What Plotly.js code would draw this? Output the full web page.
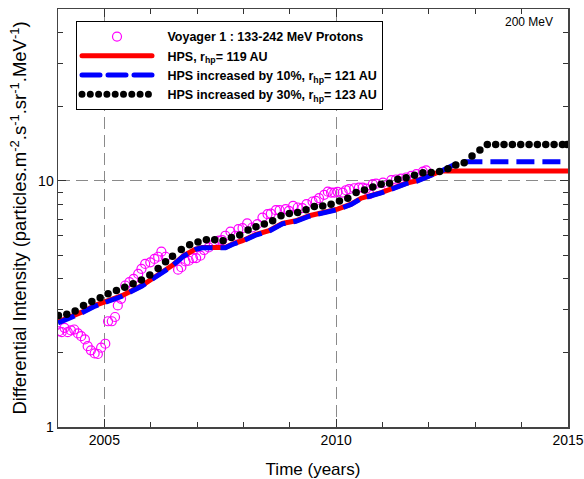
<!DOCTYPE html>
<html>
<head>
<meta charset="utf-8">
<script src="https://cdn.plot.ly/plotly-3.0.1.min.js"></script>
<style>
html,body{margin:0;padding:0;background:#fff;}
.legend path.js-line{stroke-linecap:round !important;}
</style>
</head>
<body>
<div id="chart" style="width:584px;height:479px;"></div>
<script>
// Voyager 1 : 133-242 MeV protons (observations)
const voyYears = [2004.02,2004.08,2004.14,2004.21,2004.28,2004.35,2004.43,2004.50,2004.58,2004.64,2004.71,2004.79,2004.86,2004.93,2005.02,
  2005.08,2005.16,2005.23,2005.29,2005.36,2005.45,2005.54,2005.63,2005.73,2005.80,2005.88,2005.99,2006.08,2006.16,2006.23,2006.32,
  2006.59,2006.66,2006.75,2006.82,2006.91,2006.98,2007.07,2007.15,2007.25,2007.36,2007.47,2007.54,2007.61,2007.72,2007.83,2007.89,2007.98,
  2008.08,2008.19,2008.30,2008.41,2008.52,2008.59,2008.70,2008.78,2008.91,2008.98,2009.07,2009.17,2009.27,2009.36,2009.49,2009.56,2009.63,
  2009.74,2009.82,2009.89,2009.96,2010.03,2010.14,2010.21,2010.28,2010.39,2010.49,2010.57,2010.65,2010.72,2010.79,2010.86,2011.01,2011.11,
  2011.19,2011.29,2011.40,2011.51,2011.62,2011.73,2011.87,2011.94];
const voyVals = [2.45,2.43,2.53,2.43,2.47,2.49,2.40,2.34,2.27,2.13,2.05,1.99,1.98,2.10,2.18,
  2.69,2.69,2.80,3.12,3.32,3.76,3.88,4.00,4.19,4.39,4.60,4.67,4.82,4.92,5.16,4.92,
  4.36,4.46,4.71,4.74,4.86,4.86,4.97,5.24,5.37,5.54,5.72,5.75,5.99,6.22,5.99,6.37,6.43,
  6.72,6.47,6.68,7.10,7.33,7.37,7.61,7.61,7.68,7.56,7.92,7.80,7.75,8.05,8.25,8.30,8.51,
  8.78,9.05,8.97,8.97,9.03,8.97,9.17,9.26,9.34,9.40,9.40,9.31,8.84,9.70,9.75,9.84,9.63,
  10.07,10.14,10.23,10.33,10.48,10.67,10.91,11.05];

// HPS, r_hp = 119 AU
const hpsYears = [2004.00,2004.30,2004.51,2004.80,2005.02,2005.38,2005.81,2006.17,2006.46,2006.71,2006.97,2007.11,2007.25,2007.61,2007.76,
  2007.98,2008.26,2008.55,2008.84,2009.13,2009.42,2009.82,2010.03,2010.32,2010.54,2010.97,2011.26,2011.55,2011.73,2011.91,2012.12,2012.27,2015.00];
const hpsVals = [2.67,2.80,2.93,3.12,3.22,3.42,3.76,4.19,4.53,4.97,5.29,5.37,5.37,5.37,5.54,
  5.72,6.05,6.28,6.72,6.89,7.22,7.51,7.68,8.05,8.51,8.97,9.40,9.84,10.00,10.31,10.80,10.98,10.98];

// HPS increased by 10%, r_hp = 121 AU
const hps10Years = [2004.00,2004.30,2004.51,2004.80,2005.02,2005.38,2005.81,2006.17,2006.46,2006.71,2006.97,2007.11,2007.25,2007.61,2007.76,
  2007.98,2008.26,2008.55,2008.84,2009.13,2009.42,2009.82,2010.03,2010.32,2010.54,2010.97,2011.26,2011.55,2011.73,2011.91,2012.12,2012.27,
  2012.56,2012.77,2015.00];
const hps10Vals = [2.65,2.78,2.91,3.10,3.20,3.40,3.74,4.17,4.51,4.95,5.27,5.35,5.35,5.35,5.52,
  5.70,6.02,6.25,6.69,6.86,7.19,7.48,7.65,8.02,8.48,8.94,9.37,9.81,9.97,10.28,10.78,10.98,
  11.68,11.97,11.97];

// HPS increased by 30%, r_hp = 123 AU
const hps30Years = [2004.01,2004.19,2004.37,2004.55,2004.73,2004.91,2005.08,2005.26,2005.44,2005.62,2005.80,2005.98,2006.16,2006.32,2006.47,
  2006.66,2006.84,2007.02,2007.20,2007.38,2007.56,2007.74,2007.92,2008.10,2008.27,2008.45,2008.63,2008.81,2008.99,2009.17,2009.35,2009.53,
  2009.71,2009.89,2010.07,2010.25,2010.43,2010.61,2010.79,2010.97,2011.15,2011.33,2011.51,2011.69,2011.87,2012.05,2012.23,2012.41,2012.58,
  2012.76,2012.93,2013.10,2013.26,2013.44,2013.62,2013.80,2013.98,2014.16,2014.34,2014.52,2014.70,2014.88,2014.98];
const hps30Vals = [2.84,2.87,2.96,3.12,3.24,3.35,3.48,3.59,3.70,3.82,3.96,4.15,4.41,4.70,4.94,
  5.26,5.51,5.65,5.77,5.77,5.72,5.89,6.03,6.32,6.51,6.68,6.89,7.22,7.37,7.44,7.63,7.87,
  7.92,8.05,8.30,8.51,8.97,9.19,9.46,9.70,9.79,10.16,10.31,10.55,10.80,10.82,10.93,11.21,11.61,
  11.86,12.63,13.35,14.08,14.08,14.08,14.08,14.08,14.08,14.08,14.08,14.08,14.08,14.08];

const gap = '&nbsp;&nbsp;&nbsp;';
const seriesNames = [
  gap + '<b>Voyager 1 : 133-242 MeV Protons</b>',
  gap + '<b>HPS, r<sub>hp</sub>= 119 AU</b>',
  gap + '<b>HPS increased by 10%, r<sub>hp</sub>= 121 AU</b>',
  gap + '<b>HPS increased by 30%, r<sub>hp</sub>= 123 AU</b>'
];
const xTicks = [2005, 2010, 2015];
const xMinorTicks = [2006, 2007, 2008, 2009, 2011, 2012, 2013, 2014];
const yTicks = [1, 10];
const yMinorTicks = [2, 3, 4, 5, 6, 7, 8, 9, 20, 30, 40, 50];

const traces = [
  {x: voyYears, y: voyVals, name: seriesNames[0], type: 'scatter', mode: 'markers',
   marker: {symbol: 'circle-open', size: 9, color: '#ff00ff', line: {width: 1.2, color: '#ff00ff'}}},
  {x: hpsYears, y: hpsVals, name: seriesNames[1], type: 'scatter', mode: 'lines',
   line: {color: '#ff0000', width: 5}},
  {x: hps10Years, y: hps10Vals, name: seriesNames[2], type: 'scatter', mode: 'lines',
   line: {color: '#0000ff', width: 5, dash: '18px,8px'}},
  // legend entry for the dotted model curve (no plotted points of its own)
  {x: [null], y: [null], name: seriesNames[3], type: 'scatter', mode: 'lines',
   line: {color: '#000000', width: 7, dash: '0px,8.3px'}},
  {x: hps30Years, y: hps30Vals, name: seriesNames[3], type: 'scatter', mode: 'markers', showlegend: false,
   marker: {symbol: 'circle', size: 7.5, color: '#000000'}}
];

const axisCommon = {
  showline: true, linecolor: '#444', linewidth: 1.5, mirror: 'ticks',
  ticks: 'inside', ticklen: 8, tickwidth: 1, tickcolor: '#333',
  showgrid: true, gridcolor: '#8a8a8a', gridwidth: 1, griddash: '12px,6px',
  zeroline: false, tickfont: {size: 14, color: '#000'}
};

const layout = {
  width: 584, height: 479,
  margin: {l: 58, r: 16, t: 9, b: 52},
  paper_bgcolor: '#fff', plot_bgcolor: '#fff',
  font: {family: 'Arial, "Liberation Sans", sans-serif', color: '#000', size: 13},
  showlegend: true,
  legend: {x: 0.0353, y: 0.9713, xanchor: 'left', yanchor: 'top',
           bgcolor: '#fff', bordercolor: '#000', borderwidth: 1,
           font: {size: 12.5, color: '#000'}, itemwidth: 70, tracegroupgap: 0},
  xaxis: Object.assign({}, axisCommon, {
    range: [2004, 2015], tickmode: 'array', tickvals: xTicks,
    minor: {tickmode: 'array', tickvals: xMinorTicks, ticks: 'inside', ticklen: 5, tickcolor: '#333', showgrid: false},
    title: {text: 'Time (years)', font: {size: 17}}
  }),
  yaxis: Object.assign({}, axisCommon, {
    type: 'log', range: [0, Math.log10(50)], tickmode: 'array', tickvals: yTicks, ticktext: ['1', '10'],
    minor: {tickmode: 'array', tickvals: yMinorTicks, ticks: 'inside', ticklen: 5, tickcolor: '#333', showgrid: false},
    title: {text: 'Differential Intensity (particles.m<sup>-2</sup>.s<sup>-1</sup>.sr<sup>-1</sup>.MeV<sup>-1</sup>)', font: {size: 18.5}, standoff: 6}
  }),
  annotations: [{
    text: '200 MeV', xref: 'paper', yref: 'paper', x: 0.975, y: 0.969,
    xanchor: 'right', yanchor: 'middle', showarrow: false, font: {size: 12, color: '#000'}
  }]
};

Plotly.newPlot('chart', traces, layout, {staticPlot: true, displayModeBar: false});
</script>
</body>
</html>
